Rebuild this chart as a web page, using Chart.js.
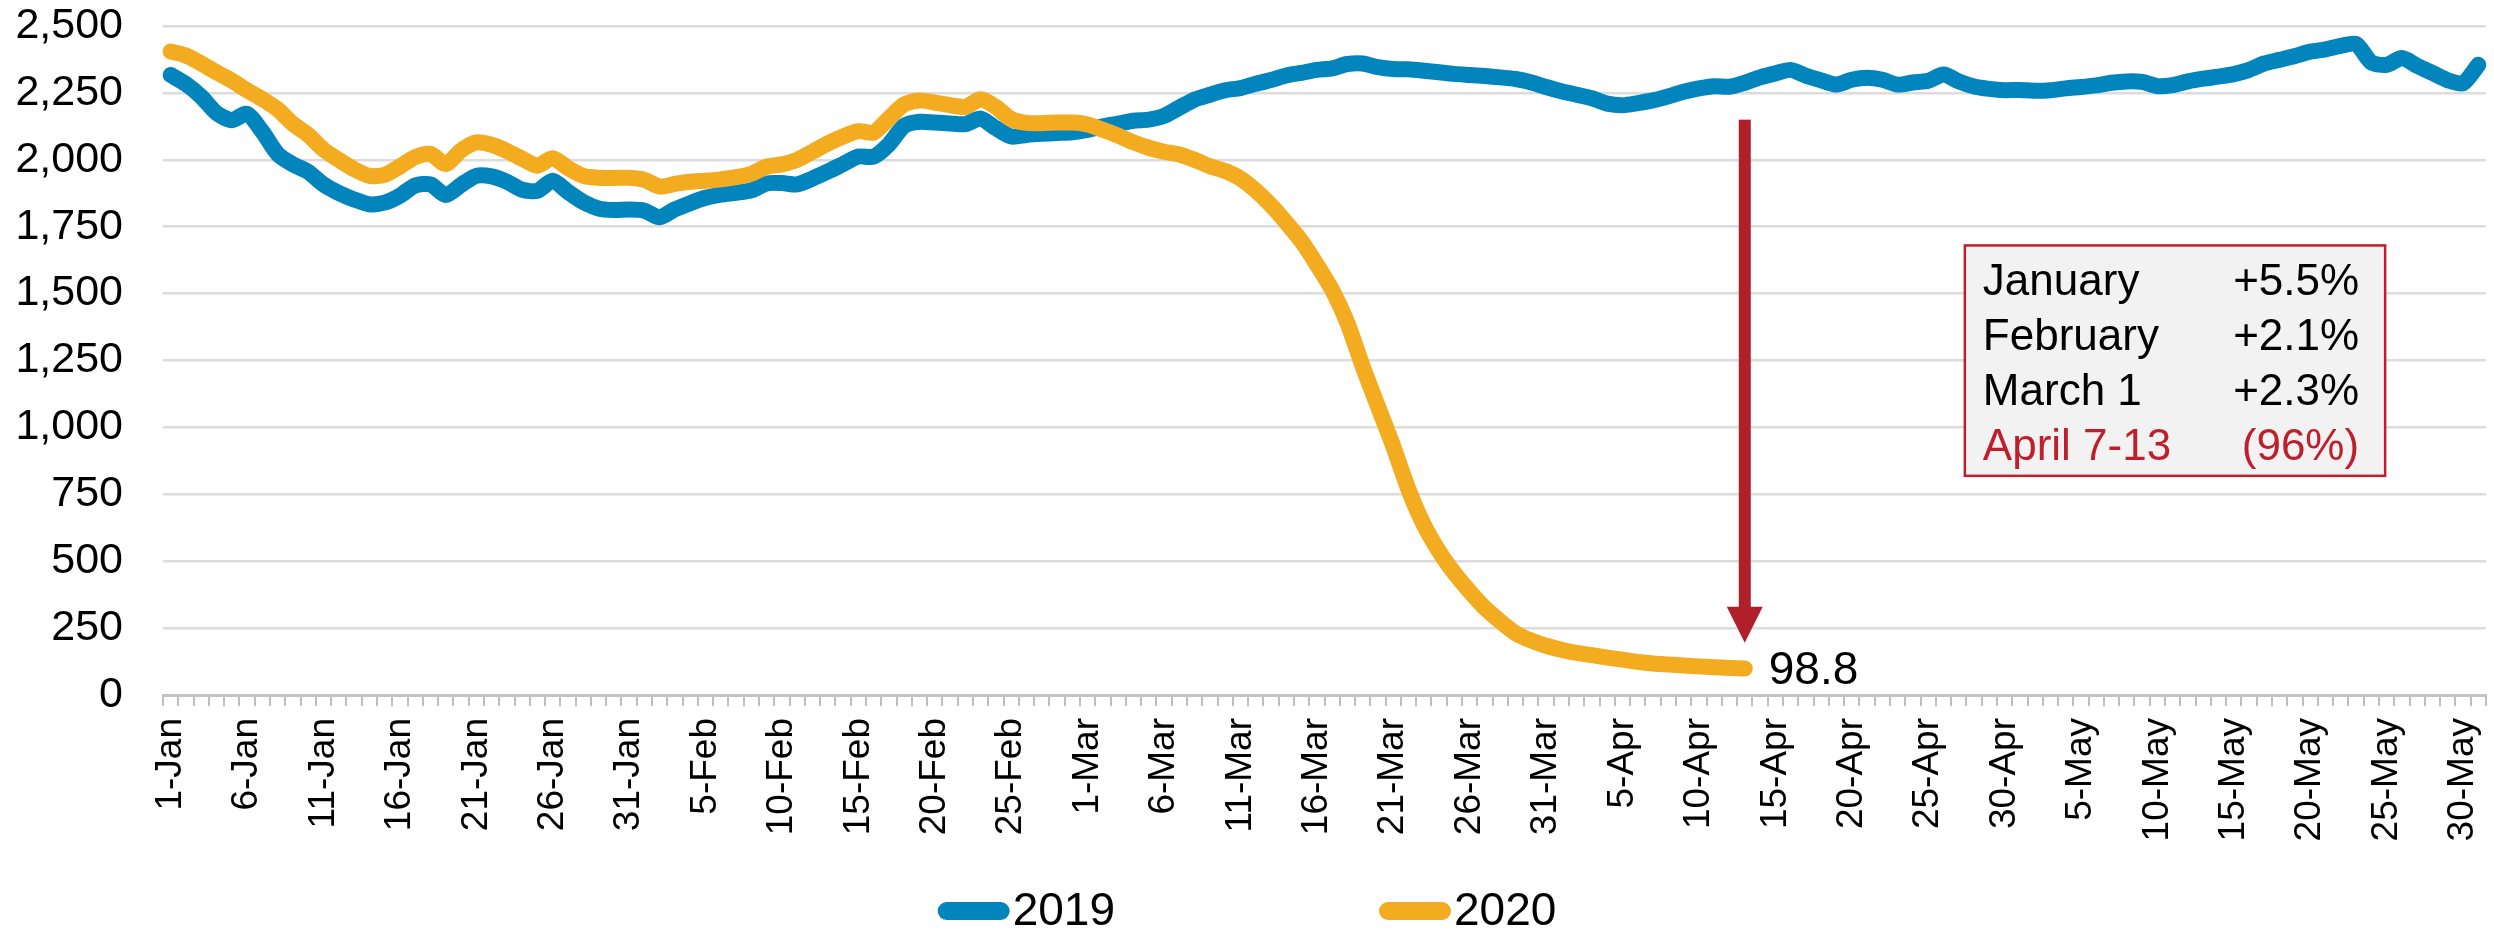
<!DOCTYPE html>
<html>
<head>
<meta charset="utf-8">
<script src="https://cdn.jsdelivr.net/npm/chart.js@4"></script>
<style>
  html, body { margin: 0; padding: 0; background: #fff; }
  #wrap { width: 2494px; height: 937px; }
</style>
</head>
<body>
<div id="wrap"><canvas id="lineChart" width="2494" height="937"></canvas></div>
<script>
// daily categories, 1-Jan .. 31-May (2020 is a leap year)
const months = ['Jan', 'Feb', 'Mar', 'Apr', 'May'];
const monthDays = [31, 29, 31, 30, 31];
const days = [];
months.forEach((m, k) => {
  for (let d = 1; d <= monthDays[k]; d++) days.push(d + '-' + m);
});

const seriesNames = ['2019', '2020'];
const seriesColors = ['#0284bd', '#f3ab1f'];

const values2019 = [
  2317, 2283, 2236, 2175, 2148, 2172, 2105, 2022, 1983, 1955,
  1908, 1876, 1852, 1834, 1840, 1866, 1904, 1908, 1868, 1906,
  1940, 1938, 1918, 1888, 1884, 1922, 1880, 1842, 1818, 1812,
  1814, 1810, 1785, 1815, 1838, 1858, 1870, 1877, 1886, 1912,
  1913, 1908, 1930, 1956, 1984, 2012, 2012, 2058, 2127, 2142,
  2139, 2136, 2133, 2154, 2118, 2087, 2093, 2097, 2100, 2103,
  2112, 2125, 2135, 2146, 2150, 2164, 2195, 2225, 2243, 2260,
  2268, 2284, 2298, 2315, 2325, 2336, 2342, 2358, 2360, 2346,
  2339, 2338, 2333, 2327, 2321, 2317, 2313, 2308, 2302, 2290,
  2272, 2256, 2243, 2230, 2210, 2204, 2212, 2222, 2237, 2254,
  2267, 2275, 2273, 2288, 2308, 2323, 2336, 2314, 2297, 2281,
  2299, 2307, 2299, 2281, 2289, 2295, 2319, 2293, 2274, 2265,
  2260, 2261, 2258, 2260, 2267, 2272, 2278, 2288, 2293, 2291,
  2275, 2279, 2293, 2303, 2311, 2320, 2336, 2360, 2374, 2388,
  2404, 2413, 2426, 2433, 2364, 2355, 2380, 2351, 2324, 2297,
  2286, 2355
];

const values2020 = [
  2405, 2390, 2360, 2327, 2296, 2260, 2227, 2189, 2134, 2093,
  2038, 2000, 1965, 1940, 1944, 1975, 2010, 2022, 1984, 2035,
  2065, 2056, 2033, 2004, 1978, 2006, 1969, 1940, 1933, 1932,
  1933, 1925, 1900, 1910, 1918, 1922, 1927, 1935, 1948, 1974,
  1983, 2000, 2030, 2061, 2087, 2107, 2102, 2155, 2207, 2222,
  2214, 2204, 2198, 2226, 2197, 2152, 2138, 2137, 2139, 2139,
  2132, 2112, 2090, 2065, 2045, 2030, 2020, 2000, 1976, 1958,
  1930, 1885, 1830, 1765, 1695, 1608, 1514, 1390, 1228, 1078,
  929, 767, 636, 536, 455, 387, 325, 275, 231, 204,
  184, 169, 157, 149, 140, 132, 124, 118, 114, 110,
  107, 104, 101, 98.8
];

const lastLabel = '98.8';
const boxRows = ['January', 'February', 'March 1', 'April 7-13'];
const boxChanges = ['+5.5%', '+2.1%', '+2.3%', '(96%)'];

const FONT = "'Liberation Sans', Arial, sans-serif";
const RED = '#bf1e2d';

// arrow, callout box and legend drawn on top of the chart
const extras = {
  id: 'extras',
  afterDatasetsDraw(chart) {
    const { ctx, scales: { x, y } } = chart;
    const pts = chart.getDatasetMeta(1).data;
    const last = pts[values2020.length - 1];

    // red arrow down to the last 2020 value
    const ax = last.x;
    const aTop = y.getPixelForValue(2150);
    const aTip = y.getPixelForValue(195);
    ctx.save();
    ctx.fillStyle = '#b0202a';
    ctx.fillRect(ax - 6, aTop, 12, aTip - aTop - 34);
    ctx.beginPath();
    ctx.moveTo(ax - 18, aTip - 36);
    ctx.lineTo(ax + 18, aTip - 36);
    ctx.lineTo(ax, aTip);
    ctx.closePath();
    ctx.fill();

    // value label
    ctx.fillStyle = '#000';
    ctx.font = '46px ' + FONT;
    ctx.textAlign = 'left';
    ctx.textBaseline = 'middle';
    ctx.fillText(lastLabel, last.x + 24, last.y + 3);

    // callout box
    const bl = x.getPixelForValue(117.4);
    const br = x.getPixelForValue(144.9);
    const bt = y.getPixelForValue(1680);
    const bb = y.getPixelForValue(819);
    ctx.fillStyle = '#f2f2f2';
    ctx.fillRect(bl, bt, br - bl, bb - bt);
    ctx.strokeStyle = RED;
    ctx.lineWidth = 2.5;
    ctx.strokeRect(bl, bt, br - bl, bb - bt);
    ctx.font = '44px ' + FONT;
    ctx.textBaseline = 'alphabetic';
    boxRows.forEach((r, k) => {
      ctx.fillStyle = k === 3 ? RED : '#000';
      const by = bt + 50 + k * 55;
      ctx.textAlign = 'left';
      ctx.fillText(r, bl + 18, by);
      ctx.textAlign = 'right';
      ctx.fillText(boxChanges[k], br - 26, by);
    });
    ctx.restore();
  },
  afterDraw(chart) {
    const { ctx } = chart;
    ctx.save();
    ctx.font = '46px ' + FONT;
    const sample = 72, gap = 3, between = 264;
    const widths = seriesNames.map(n => ctx.measureText(n).width);
    const total = widths.reduce((a, b) => a + b, 0) + 2 * (sample + gap) + between;
    let cx = chart.width / 2 - total / 2;
    const cy = 911;
    seriesNames.forEach((n, k) => {
      ctx.strokeStyle = seriesColors[k];
      ctx.lineWidth = 18;
      ctx.lineCap = 'round';
      ctx.beginPath();
      ctx.moveTo(cx + 9, cy);
      ctx.lineTo(cx + sample - 9, cy);
      ctx.stroke();
      ctx.fillStyle = '#000';
      ctx.textAlign = 'left';
      ctx.textBaseline = 'middle';
      ctx.fillText(n, cx + sample + gap, cy + 1);
      cx += sample + gap + widths[k] + between;
    });
    ctx.restore();
  }
};

new Chart(document.getElementById('lineChart').getContext('2d'), {
  type: 'line',
  data: {
    labels: days,
    datasets: [{
      label: seriesNames[0],
      data: values2019,
      borderColor: seriesColors[0],
      backgroundColor: seriesColors[0],
      borderWidth: 16,
      pointRadius: 0,
      tension: 0.25,
      borderCapStyle: 'round',
      borderJoinStyle: 'round',
      order: 1
    }, {
      label: seriesNames[1],
      data: values2020,
      borderColor: seriesColors[1],
      backgroundColor: seriesColors[1],
      borderWidth: 16,
      pointRadius: 0,
      tension: 0.25,
      borderCapStyle: 'round',
      borderJoinStyle: 'round',
      order: 0
    }]
  },
  options: {
    responsive: false,
    animation: false,
    layout: { padding: { top: 26, right: 8, bottom: 82, left: 0 } },
    plugins: {
      legend: { display: false },
      tooltip: { enabled: false }
    },
    scales: {
      x: {
        offset: true,
        grid: { offset: true, drawOnChartArea: false, drawTicks: true, tickLength: 11, color: '#bfbfbf', lineWidth: 2 },
        border: { display: true, color: '#c4c4c4', width: 3 },
        ticks: {
          autoSkip: false,
          maxRotation: 90,
          minRotation: 90,
          padding: 12,
          color: '#000',
          font: { family: FONT, size: 37 },
          callback: (val, idx) => idx % 5 === 0 ? days[idx] : ''
        },
        afterFit(scale) {
          scale.height = 160;
          scale.paddingLeft = 0;
          scale.paddingRight = 0;
        }
      },
      y: {
        min: 0,
        max: 2500,
        ticks: {
          stepSize: 250,
          padding: 40,
          color: '#000',
          font: { family: FONT, size: 43 },
          callback: v => v.toLocaleString('en-US')
        },
        grid: { color: '#dcdcdc', lineWidth: 2.5, drawTicks: false },
        border: { display: false },
        afterFit(scale) {
          scale.width = 163;
          scale.paddingTop = 0;
          scale.paddingBottom = 0;
        }
      }
    }
  },
  plugins: [extras]
});
</script>
</body>
</html>
